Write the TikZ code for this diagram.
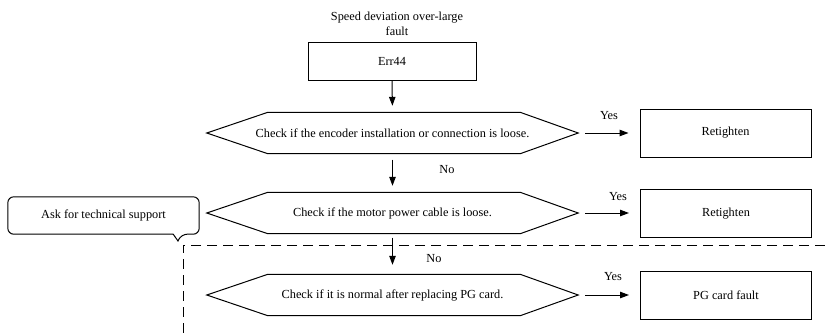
\documentclass[tikz,border=0pt]{standalone}
\usepackage{fontspec}
\setmainfont{Liberation Serif}
\usetikzlibrary{arrows.meta}
\begin{document}
\begin{tikzpicture}[x=1pt,y=-1pt,
  every node/.style={font=\fontsize{12.3}{14.5}\selectfont, inner sep=0pt},
  box/.style={draw, line width=1pt, minimum width=171pt, minimum height=48pt},
  hexnode/.style={minimum width=371pt, minimum height=41pt},
  hexline/.style={draw, line width=1pt, line join=miter},
  arr/.style={line width=1pt, -{Triangle[length=9pt,width=6.5pt]}},
  lbl/.style={}
]
\useasboundingbox (0,0) rectangle (825,333);

% title and first box
\node[align=center] (title) at (397,24) {Speed deviation over-large\\fault};
\node[box, minimum width=168pt, minimum height=38pt] (err) at (392,61) {Err44};

% decision hexagons
\node[hexnode] (c1) at (392.5,133) {Check if the encoder installation or connection is loose.};
\node[hexnode] (c2) at (392.5,213) {Check if the motor power cable is loose.};
\node[hexnode] (c3) at (392.5,295) {Check if it is normal after replacing PG card.};
\foreach \h in {c1,c2,c3}{
  \draw[hexline] ([xshift=61pt]\h.north west) -- ([xshift=-58pt]\h.north east) -- (\h.east)
    -- ([xshift=-58pt]\h.south east) -- ([xshift=61pt]\h.south west) -- (\h.west) -- cycle;
}

% result boxes
\node[box] (r1) at (725.5,133) {Retighten};
\node[box] (r2) at (726,213.5) {Retighten};
\node[box] (pg) at (726,295) {PG card fault};

% callout
\node[minimum width=191pt, minimum height=37pt] (ask) at (103.5,215.5) {Ask for technical support};
\coordinate (tip) at (178,241);
\draw[line width=1pt] (ask.west) [rounded corners=6pt] -- (ask.north west) -- (ask.north east)
  -- (ask.south east) -- ([xshift=-18pt]ask.south east) [sharp corners] -- (tip)
  -- ([xshift=-26pt]ask.south east) [rounded corners=6pt] -- (ask.south west) -- cycle;

% dashed boundary
\coordinate (dR) at (825,245);
\coordinate (dC) at (183,245);
\coordinate (dB) at (183,333);
\draw[line width=1pt, dash pattern=on 10pt off 6pt] (dR) -- (dC) -- (dB);

% vertical arrows
\draw[arr, shorten >=6.5pt] (err.south) -- (c1.north);
\draw[arr, shorten <=6pt, shorten >=6.5pt] (c1.south) -- (c2.north);
\draw[arr, shorten <=4pt, shorten >=9.5pt] (c2.south) -- (c3.north);
\node[lbl] (no1) at (447,170) {No};
\node[lbl] (no2) at (434,259) {No};

% yes arrows
\draw[arr, shorten <=7pt, shorten >=11pt] (c1.east) -- (r1.west);
\draw[arr, shorten <=7pt, shorten >=11pt] (c2.east) -- (c2.east -| r2.west);
\draw[arr, shorten <=7pt, shorten >=11pt] (c3.east) -- (pg.west);
\node[lbl] (y1) at (609,116) {Yes};
\node[lbl] (y2) at (618,197) {Yes};
\node[lbl] (y3) at (613,277) {Yes};
\end{tikzpicture}
\end{document}
